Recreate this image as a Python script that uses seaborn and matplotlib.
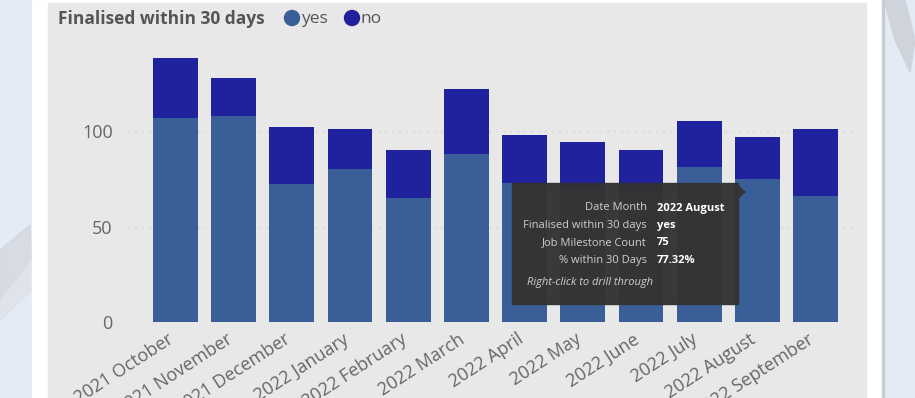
import matplotlib
matplotlib.use("Agg")
import matplotlib.pyplot as plt
import seaborn as sns
import pandas as pd
from matplotlib.patches import Rectangle, Polygon, Circle
from matplotlib.transforms import ScaledTranslation

# dados
meses = ["2021 October", "2021 November", "2021 December", "2022 January",
         "2022 February", "2022 March", "2022 April", "2022 May",
         "2022 June", "2022 July", "2022 August", "2022 September"]
sim = [107, 108, 72, 80, 65, 88, 73, 70, 68, 81, 75, 66]
total = [138, 128, 102, 101, 90, 122, 98, 94, 90, 105, 97, 101]
yticks = [0, 50, 100]

cor_sim = "#3a5f98"
cor_nao = "#1f229c"
cor_texto = "#666666"

data = pd.DataFrame({"Mes": meses, "Sim": sim, "Total": total})

sns.set_theme(style="white")
plt.rcParams["font.family"] = ["Open Sans", "DejaVu Sans"]

W, H = 915, 398
fig = plt.figure(figsize=(W / 100, H / 100), dpi=100)
fig.patch.set_facecolor("#e4ebf5")

# fundo decorativo em coordenadas de pixel
bg = fig.add_axes([0, 0, 1, 1])
bg.set_xlim(0, W)
bg.set_ylim(H, 0)
bg.axis("off")
bg.add_patch(Polygon([(0, 250), (30, 225), (32, 258), (0, 300)], color="#d3d8e0", alpha=0.8))
bg.add_patch(Polygon([(0, 300), (32, 262), (32, 290), (0, 320)], color="#dde2ea", alpha=0.8))
bg.add_patch(Polygon([(884, 0), (905, 0), (915, 40), (910, 72), (895, 40)], color="#cfd4dc"))
bg.add_patch(Rectangle((32, 0), 850, H, color="white"))
bg.add_patch(Rectangle((882, 0), 2, H, color="#c9ced6"))
bg.add_patch(Rectangle((48, 3), 818, H, color="#e8e8e8"))

# legenda
bg.text(58, 19, "Finalised within 30 days", fontsize=12.5, fontweight="bold",
        color="#555555", va="center", ha="left")
bg.add_patch(Circle((292, 18), 7.5, color=cor_sim))
bg.text(301, 19, "yes", fontsize=12.5, color="#555555", va="center")
bg.add_patch(Circle((352, 18), 7.5, color=cor_nao))
bg.text(360, 19, "no", fontsize=12.5, color="#555555", va="center")

# eixo principal
ax = fig.add_axes([128 / W, 1 - 322 / H, (858 - 128) / W, (322 - 40) / H])
ax.set_facecolor("#e8e8e8")
sns.barplot(x="Mes", y="Total", data=data, color=cor_nao, saturation=1, width=0.77,
            linewidth=0, ax=ax)
sns.barplot(x="Mes", y="Sim", data=data, color=cor_sim, saturation=1, width=0.77,
            linewidth=0, ax=ax)
ax.set_xlim(-0.816, 11.73)
ax.set_ylim(0, (322 - 40) / 1.91)
ax.set_yticks(yticks)
ax.set_yticklabels([str(v) for v in yticks], fontsize=13, color=cor_texto)
for v in yticks:
    ax.axhline(v, color="#cfcfcf", lw=1, ls=(0, (1, 4)), zorder=0)
ax.set_xlabel("")
ax.set_ylabel("")
ax.tick_params(axis="y", length=0, pad=11)
ax.tick_params(axis="x", length=0, pad=6)
ax.set_xticks(range(len(meses)))
ax.set_xticklabels(meses, rotation=33, ha="right", rotation_mode="anchor",
                   fontsize=13, color=cor_texto)
desloc = ScaledTranslation(-8 / 100, 0, fig.dpi_scale_trans)
for lbl in ax.get_xticklabels():
    lbl.set_transform(lbl.get_transform() + desloc)
for s in ax.spines.values():
    s.set_visible(False)
ax.set_axisbelow(True)

# tooltip por cima
tip = fig.add_axes([0, 0, 1, 1])
tip.set_xlim(0, W)
tip.set_ylim(H, 0)
tip.axis("off")
tip.add_patch(Rectangle((512, 183), 226, 121, color="#333333", alpha=0.97))
tip.add_patch(Polygon([(738, 186), (745, 192), (738, 198)], color="#333333"))
rotulos = ["Date Month", "Finalised within 30 days", "Job Milestone Count", "% within 30 Days"]
valores = ["2022 August", "yes", "75", "77.32%"]
for i, (r, v) in enumerate(zip(rotulos, valores)):
    y = 208 + i * 17.4
    tip.text(647, y, r, fontsize=8, color="#cfcfcf", ha="right", va="center")
    tip.text(657, y, v, fontsize=8, color="white", ha="left", va="center", fontweight="bold")
tip.text(527, 283, "Right-click to drill through", fontsize=8, color="#cfcfcf",
         ha="left", va="center", style="italic")

fig.savefig("out.png", dpi=100)
